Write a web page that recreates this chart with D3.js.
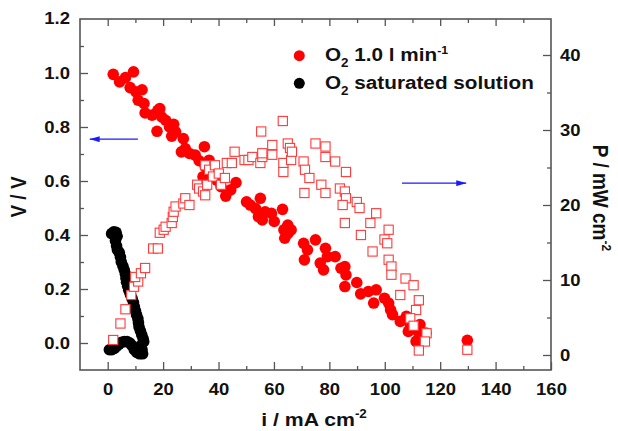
<!DOCTYPE html>
<html>
<head>
<meta charset="utf-8">
<script src="https://cdnjs.cloudflare.com/ajax/libs/d3/7.8.5/d3.min.js"></script>
<style>
  body { margin: 0; background: #fff; }
  text { font-family: "Liberation Sans", Arial, sans-serif; font-weight: bold; fill: #111; }
</style>
</head>
<body>
<svg id="chart" width="618" height="431"></svg>
<script>
// O2 1.0 l/min : i (mA cm-2), V (V)
const flowVI = [
  [2.0,0.995],[4.3,0.967],[6.4,0.983],[9.3,1.004],[8.1,0.946],[10.2,0.930],[12.4,0.938],
  [11.0,0.899],[13.1,0.887],[13.5,0.852],[16.0,0.844],[18.1,0.862],[18.8,0.868],[17.8,0.784],
  [19.5,0.837],[20.9,0.825],[22.3,0.800],[23.8,0.810],[23.1,0.766],[24.5,0.782],[27.3,0.757],
  [26.6,0.708],[28.0,0.720],[29.5,0.702],[31.6,0.696],[33.0,0.675],[34.9,0.727],[35.2,0.653],
  [36.6,0.677],[34.4,0.616],[38.0,0.647],[39.4,0.603],[40.9,0.579],[42.6,0.544],[44.4,0.567],
  [46.3,0.594],[50.1,0.523],[51.5,0.511],[55.1,0.536],[53.4,0.498],[54.4,0.468],[55.8,0.456],
  [56.8,0.486],[59.1,0.480],[60.1,0.450],[63.1,0.495],[63.6,0.419],[63.9,0.388],[65.0,0.437],
  [66.2,0.419],[65.0,0.406],[70.7,0.369],[71.0,0.308],[72.1,0.345],[75.0,0.382],[76.7,0.296],
  [77.9,0.271],[78.6,0.351],[79.3,0.320],[82.1,0.320],[84.2,0.277],[85.6,0.283],[86.0,0.252],
  [85.6,0.209],[89.9,0.224],[91.3,0.182],[94.1,0.191],[96.0,0.148],[96.9,0.197],[99.9,0.166],
  [101.4,0.148],[102.1,0.123],[102.8,0.105],[105.6,0.080],[107.8,0.099],[109.2,0.068],
  [108.5,0.043],[111.3,0.049],[112.7,0.068],[112.3,0.018],[111.3,0.006],[114.2,0.025],
  [114.9,0.037],[129.8,0.010]
];

// O2 1.0 l/min : i (mA cm-2), P (mW cm-2)
const flowPI = [
  [2.0,2.0],[4.6,4.2],[6.4,6.1],[8.5,8.0],[9.5,9.1],[11.0,9.8],[9.9,10.4],[12.0,10.9],
  [13.5,11.6],[16.4,14.2],[18.1,14.2],[18.8,16.3],[20.2,16.7],[20.9,17.1],[23.1,17.6],
  [23.5,18.4],[23.8,19.1],[24.5,19.8],[27.3,20.2],[28.0,20.9],[29.5,20.0],[32.3,22.7],
  [33.0,22.2],[34.4,21.8],[35.2,21.3],[35.9,22.7],[35.2,25.3],[36.6,24.7],[38.0,23.8],
  [38.7,25.3],[40.1,24.2],[40.9,22.7],[42.3,23.6],[43.0,25.6],[44.8,25.6],[45.8,27.1],
  [49.4,26.0],[50.8,26.0],[52.2,26.4],[55.1,25.6],[55.8,26.4],[55.8,26.9],[55.4,29.8],
  [59.4,26.7],[59.4,28.0],[63.2,31.2],[63.4,25.6],[63.4,24.4],[65.0,28.2],[65.8,27.6],
  [66.2,26.0],[66.5,27.1],[70.7,25.8],[71.2,24.7],[72.8,23.6],[71.0,21.6],[75.0,28.2],
  [78.6,27.8],[78.6,26.4],[77.1,22.7],[78.6,21.6],[82.1,25.8],[86.0,24.4],[83.8,22.2],
  [85.6,21.8],[86.0,20.9],[84.8,20.0],[85.6,17.6],[89.9,20.4],[90.9,19.6],[96.9,18.9],
  [94.8,17.6],[91.4,16.0],[101.4,16.7],[99.9,15.4],[100.9,14.9],[95.6,13.8],[101.4,12.7],
  [102.4,11.8],[102.4,10.7],[107.5,10.2],[110.4,9.3],[105.6,8.0],[112.3,7.3],[111.3,6.0],
  [109.2,4.9],[110.4,3.9],[115.1,2.9],[114.5,1.8],[112.3,0.6],[129.8,0.7]
];

// O2 saturated solution : i (mA cm-2), V (V)
const satVI = [
  [1.4,0.405],[2.2,0.412],[3.0,0.410],[3.4,0.395],[2.8,0.378],[3.2,0.360],[3.5,0.345],
  [4.2,0.335],[4.6,0.318],[4.9,0.300],[5.5,0.285],[6.0,0.270],[6.4,0.255],[6.6,0.240],
  [6.8,0.225],[7.2,0.210],[7.6,0.195],[8.2,0.180],[8.8,0.165],[9.3,0.150],[9.6,0.135],
  [10.0,0.120],[10.4,0.105],[10.9,0.090],[11.1,0.075],[11.3,0.060],[11.8,0.045],[12.3,0.030],
  [12.8,0.015],[13.0,0.005],[12.0,-0.010],[12.4,-0.025],[12.6,-0.040],[11.5,-0.040],
  [10.5,-0.035],[9.6,-0.025],[8.8,-0.010],[8.0,0.000],[7.0,0.005],[6.0,0.005],[5.0,0.003],
  [4.0,-0.005],[3.2,-0.012],[2.4,-0.020],[1.5,-0.025],[0.6,-0.025]
];

const xTicks = [0, 20, 40, 60, 80, 100, 120, 140, 160];
const vTicks = [0, 0.2, 0.4, 0.6, 0.8, 1.0, 1.2];
const pTicks = [0, 10, 20, 30, 40];

const svg = d3.select("#chart");
const L = 80, R = 551, T = 19, B = 370;
const SX = 1.12; // text in the picture is a little wide

const x = d3.scaleLinear().domain([-10, 160]).range([L, R]);
const yV = d3.scaleLinear().domain([-0.1, 1.2]).range([B, T]);
const yP = d3.scaleLinear().domain([-2, 44.8]).range([B, T]);

function widen(sel) {
  sel.each(function () {
    const t = d3.select(this);
    const tx = +t.attr("x") || 0, ty = +t.attr("y") || 0;
    t.attr("x", null).attr("y", null)
     .attr("transform", `translate(${tx},${ty}) scale(${SX},1)`);
  });
}

function styleAxis(g) {
  g.select(".domain").remove();
  g.selectAll("line").attr("stroke", "#555").attr("stroke-width", 1.3);
  g.selectAll("text").attr("font-size", 16.5).attr("fill", "#111")
    .attr("font-family", "'Liberation Sans', Arial, sans-serif").attr("font-weight", "bold");
}

const minorX = d3.range(10, 160, 20);
const minorV = d3.range(0.1, 1.15, 0.2);
const minorP = [5, 15, 25, 35];

// minor ticks
svg.append("g").attr("transform", `translate(0,${B})`)
  .call(d3.axisBottom(x).tickValues(minorX).tickSize(-4).tickFormat("")).call(styleAxis);
svg.append("g").attr("transform", `translate(0,${T})`)
  .call(d3.axisTop(x).tickValues(minorX).tickSize(-4).tickFormat("")).call(styleAxis);
svg.append("g").attr("transform", `translate(${L},0)`)
  .call(d3.axisLeft(yV).tickValues(minorV).tickSize(-4).tickFormat("")).call(styleAxis);
svg.append("g").attr("transform", `translate(${R},0)`)
  .call(d3.axisRight(yP).tickValues(minorP).tickSize(-4).tickFormat("")).call(styleAxis);

// major ticks
const gx = svg.append("g").attr("transform", `translate(0,${B})`)
  .call(d3.axisBottom(x).tickValues(xTicks).tickSize(-8).tickPadding(13).tickFormat(d3.format("d")))
  .call(styleAxis);
svg.append("g").attr("transform", `translate(0,${T})`)
  .call(d3.axisTop(x).tickValues(xTicks.slice(0, -1)).tickSize(-7).tickFormat("")).call(styleAxis);
const gv = svg.append("g").attr("transform", `translate(${L},0)`)
  .call(d3.axisLeft(yV).tickValues(vTicks.slice(0, -1)).tickSize(-8).tickPadding(10).tickFormat(d3.format(".1f")))
  .call(styleAxis);
const gp = svg.append("g").attr("transform", `translate(${R},0)`)
  .call(d3.axisRight(yP).tickValues(pTicks).tickSize(-8).tickPadding(9).tickFormat(d3.format("d")))
  .call(styleAxis);
// 1.2 label sits at the top edge
gv.append("g").attr("transform", `translate(0,${yV(1.2)})`)
  .append("text").attr("x", -10).attr("dy", "0.32em").attr("text-anchor", "end")
  .attr("font-size", 16.5).attr("fill", "#111").text("1.2");
widen(gx.selectAll("text"));
widen(gv.selectAll("text"));
widen(gp.selectAll("text"));

// frame
svg.append("rect").attr("x", L).attr("y", T).attr("width", R - L).attr("height", B - T)
  .attr("fill", "none").attr("stroke", "#555").attr("stroke-width", 1.6);

// data
const plot = svg.append("g");
plot.selectAll("circle.sat").data(satVI).enter().append("circle")
  .attr("class", "sat").attr("cx", d => x(d[0])).attr("cy", d => yV(d[1]))
  .attr("r", 5.8).attr("fill", "#000");
plot.selectAll("circle.flow").data(flowVI).enter().append("circle")
  .attr("class", "flow").attr("cx", d => x(d[0])).attr("cy", d => yV(d[1]))
  .attr("r", 5.8).attr("fill", "#ff0000");
plot.selectAll("rect.pw").data(flowPI).enter().append("rect")
  .attr("class", "pw").attr("x", d => x(d[0]) - 4.6).attr("y", d => yP(d[1]) - 4.6)
  .attr("width", 9.2).attr("height", 9.2)
  .attr("fill", "#fff").attr("stroke", "#ff3a3a").attr("stroke-width", 1.1);

// arrows
const defs = svg.append("defs");
defs.append("marker").attr("id", "head").attr("viewBox", "0 0 10 6")
  .attr("refX", 10).attr("refY", 3).attr("markerWidth", 10).attr("markerHeight", 6)
  .attr("markerUnits", "userSpaceOnUse").attr("orient", "auto")
  .append("path").attr("d", "M0,0L10,3L0,6Z").attr("fill", "#1a1aff");
svg.append("line").attr("x1", x(10.9)).attr("x2", x(-6.5)).attr("y1", yV(0.755)).attr("y2", yV(0.755))
  .attr("stroke", "#1a1aff").attr("stroke-width", 1.3).attr("marker-end", "url(#head)");
svg.append("line").attr("x1", x(106.2)).attr("x2", x(129.4)).attr("y1", yV(0.592)).attr("y2", yV(0.592))
  .attr("stroke", "#1a1aff").attr("stroke-width", 1.3).attr("marker-end", "url(#head)");

// legend
const leg = svg.append("g");
leg.append("circle").attr("cx", 299.3).attr("cy", 55.7).attr("r", 5.5).attr("fill", "#ff0000");
leg.append("circle").attr("cx", 299.3).attr("cy", 83.3).attr("r", 5.5).attr("fill", "#000");
const t1 = leg.append("text").attr("x", 325).attr("y", 61).attr("font-size", 18.5);
t1.append("tspan").text("O");
t1.append("tspan").attr("font-size", 12).attr("dy", 6).text("2");
t1.append("tspan").attr("dy", -6).text(" 1.0 l min");
t1.append("tspan").attr("font-size", 11).attr("dy", -7).text("-1");
const t2 = leg.append("text").attr("x", 325).attr("y", 88.5).attr("font-size", 18.5);
t2.append("tspan").text("O");
t2.append("tspan").attr("font-size", 12).attr("dy", 6).text("2");
t2.append("tspan").attr("dy", -6).text(" saturated solution");
widen(leg.selectAll("text"));

// axis titles
const xt = svg.append("text").attr("x", 314).attr("y", 426).attr("text-anchor", "middle").attr("font-size", 19);
xt.append("tspan").text("i / mA cm");
xt.append("tspan").attr("font-size", 12).attr("dy", -8).text("-2");
widen(xt);

svg.append("g").attr("transform", `translate(26,197) scale(${SX},1) rotate(-90)`)
  .append("text").attr("text-anchor", "middle").attr("font-size", 19).text("V / V");

const pt = svg.append("g").attr("transform", `translate(593,198) scale(${SX},1) rotate(90)`)
  .append("text").attr("text-anchor", "middle").attr("font-size", 19);
pt.append("tspan").text("P / mW cm");
pt.append("tspan").attr("font-size", 12).attr("dy", -8).text("-2");
</script>
</body>
</html>
